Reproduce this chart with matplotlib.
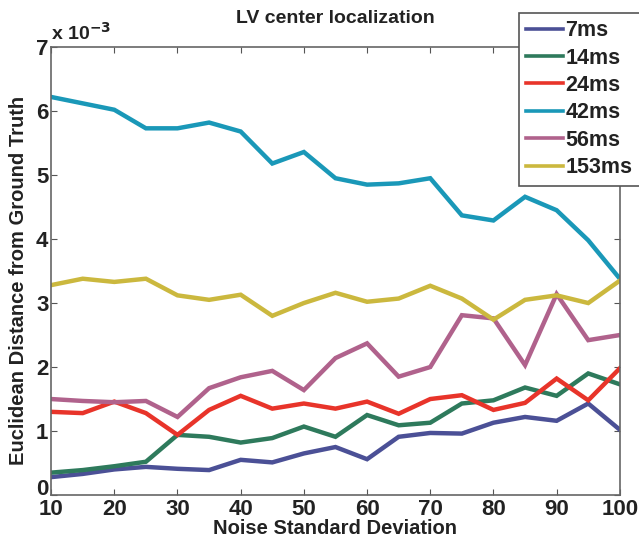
import numpy as np
import matplotlib.pyplot as plt
import matplotlib.transforms as mtransforms

# noise standard deviation
noise = [10, 15, 20, 25, 30, 35, 40, 45, 50, 55, 60, 65, 70, 75, 80, 85, 90, 95, 100]

# euclidean distance, in units of 1e-3
d7 = [0.28, 0.33, 0.40, 0.44, 0.41, 0.39, 0.55, 0.51, 0.65, 0.75, 0.56, 0.91, 0.97, 0.96, 1.13, 1.22, 1.16, 1.43, 1.02]
d14 = [0.35, 0.39, 0.45, 0.52, 0.94, 0.91, 0.82, 0.89, 1.07, 0.91, 1.25, 1.09, 1.13, 1.43, 1.48, 1.68, 1.55, 1.90, 1.73]
d24 = [1.30, 1.28, 1.46, 1.28, 0.94, 1.33, 1.55, 1.35, 1.43, 1.35, 1.46, 1.27, 1.50, 1.56, 1.33, 1.44, 1.82, 1.48, 1.98]
d42 = [6.22, 6.12, 6.02, 5.73, 5.73, 5.82, 5.68, 5.18, 5.36, 4.95, 4.85, 4.87, 4.95, 4.37, 4.29, 4.66, 4.45, 3.98, 3.38]
d56 = [1.50, 1.47, 1.45, 1.47, 1.22, 1.67, 1.84, 1.94, 1.64, 2.14, 2.37, 1.85, 2.00, 2.81, 2.76, 2.03, 3.14, 2.42, 2.50]
d153 = [3.28, 3.38, 3.33, 3.38, 3.12, 3.05, 3.13, 2.80, 3.00, 3.16, 3.02, 3.07, 3.27, 3.07, 2.74, 3.05, 3.12, 3.00, 3.35]

labels = ['7ms', '14ms', '24ms', '42ms', '56ms', '153ms']
colors = ['#4b5096', '#2e7a5c', '#e8342a', '#1a98b8', '#b0628c', '#cbb83e']

plt.rcParams['font.family'] = ['Liberation Sans', 'DejaVu Sans']
plt.rcParams['font.weight'] = 'bold'

fig = plt.figure(figsize=(6.39, 5.47), dpi=100)
ax = fig.add_axes([0.080, 0.095, 0.890, 0.819])

for ys, c, lab in zip([d7, d14, d24, d42, d56, d153], colors, labels):
    ax.plot(noise, ys, color=c, lw=3.2, label=lab, solid_joinstyle='miter')

ax.set_xlim(10, 100)
ax.set_ylim(0, 7)
ax.set_xticks(range(10, 101, 10))
ax.set_yticks(range(0, 8))
ax.tick_params(direction='in', top=True, right=True, labelsize=16, length=4,
               color='#555555')
ax.tick_params(axis='x', pad=3)
ax.tick_params(axis='y', pad=2)
for lbl in ax.get_xticklabels() + ax.get_yticklabels():
    lbl.set_fontweight('bold')
    lbl.set_color('#222222')
# nudge the "0" up a little, as in the original
ylab0 = ax.get_yticklabels()[0]
ylab0.set_transform(ylab0.get_transform() + mtransforms.ScaledTranslation(0, 6 / 72, fig.dpi_scale_trans))
for s in ax.spines.values():
    s.set_color('#666666')
    s.set_linewidth(1.2)

ax.set_xlabel('Noise Standard Deviation', fontsize=14.5, fontweight='bold', labelpad=-1, color='#222222')
ax.set_ylabel('Euclidean Distance from Ground Truth', fontsize=14.5, fontweight='bold', color='#222222')
ax.yaxis.set_label_coords(-0.040, 0.48)
ax.set_title('LV center localization', fontsize=14, fontweight='bold', pad=17, color='#222222')
ax.text(0.0, 1.008, r'x 10$^{-3}$', transform=ax.transAxes, fontsize=14,
        fontweight='bold', ha='left', va='bottom', color='#222222')

leg = fig.legend(loc='upper left', bbox_to_anchor=(0.812, 0.977), fontsize=15.5,
                 handlelength=1.7, handletextpad=0.1, labelspacing=0.3,
                 borderaxespad=0, borderpad=0.35, fancybox=False, framealpha=1)
leg.get_frame().set_edgecolor('#555555')
leg.get_frame().set_linewidth(1.2)
for t in leg.get_texts():
    t.set_fontweight('bold')
    t.set_color('#222222')
for h in leg.get_lines():
    h.set_linewidth(2.6)

fig.savefig('out.png', dpi=100)
